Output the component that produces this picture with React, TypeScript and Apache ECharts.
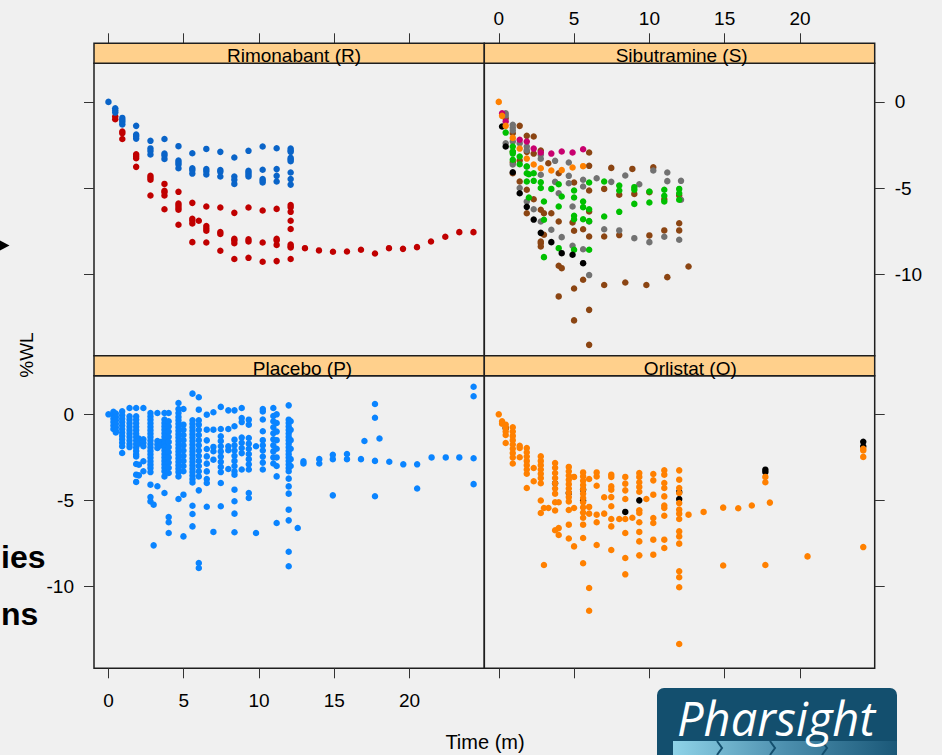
import React, { useEffect, useRef } from "react";
import * as echarts from "echarts";

const panelTitles = ["Rimonabant (R)", "Sibutramine (S)", "Placebo (P)", "Orlistat (O)"];
const xTicks = [0, 5, 10, 15, 20];
const yTicks = [0, -5, -10];
const xTitle = "Time (m)";
const yTitle = "%WL";
const sideTexts = ["ies", "ns"];
const logoText = "Pharsight";

type Col = [number, number[]];

// Rimonabant (R)
const rimBlueCols: Col[] = [
  [0, [0]],
  [0.45, [-0.37, -0.5, -0.62]],
  [0.92, [-0.93, -1.05, -1.16, -1.31]],
  [1.84, [-1.39, -1.9, -2.0, -2.13]],
  [2.79, [-2.26, -2.7, -2.85, -3.05]],
  [3.72, [-2.15, -3.0, -3.11, -3.31]],
  [4.65, [-2.57, -3.4, -3.52, -3.64, -3.85]],
  [5.57, [-2.98, -3.85, -3.96, -4.16]],
  [6.5, [-2.73, -3.9, -4.02, -4.21]],
  [7.43, [-2.9, -3.95, -4.06, -4.33]],
  [8.36, [-3.23, -4.33, -4.52, -4.76]],
  [9.3, [-2.84, -4.0, -4.1, -4.22, -4.33]],
  [10.24, [-2.59, -3.94, -4.48, -4.58, -4.68]],
  [11.17, [-2.69, -3.9, -4.29, -4.62]],
  [12.1, [-2.71, -2.82, -2.9, -3.25, -3.35, -3.44, -4.1, -4.48, -4.8]],
];
const rimRedCols: Col[] = [
  [0.45, [-0.85, -1.0]],
  [0.92, [-1.72, -1.82, -2.15]],
  [1.84, [-3.04, -3.15, -3.27, -3.77]],
  [2.79, [-4.29, -4.4, -4.52, -5.43]],
  [3.72, [-4.76, -5.16, -5.25, -5.43, -6.23]],
  [4.65, [-5.22, -5.9, -6.01, -6.15, -6.26, -7.13]],
  [5.57, [-5.86, -6.78, -6.9, -7.06, -8.14]],
  [6.0, [-6.9]],
  [6.5, [-6.07, -7.2, -7.35, -7.48, -8.16]],
  [7.43, [-6.13, -7.55, -7.66, -8.64]],
  [8.36, [-6.44, -7.95, -8.04, -8.2, -9.12]],
  [9.3, [-6.13, -7.98, -8.1, -9.05]],
  [10.24, [-6.3, -8.16, -9.28]],
  [11.17, [-6.21, -7.95, -8.04, -8.3, -9.24]],
  [12.1, [-5.99, -6.12, -6.38, -6.9, -7.38, -8.28, -8.38, -8.45, -9.12]],
  [13.05, [-8.49]],
  [13.98, [-8.62]],
  [14.91, [-8.7]],
  [15.84, [-8.68]],
  [16.77, [-8.58]],
  [17.7, [-8.8]],
  [18.63, [-8.49]],
  [19.56, [-8.53]],
  [20.49, [-8.43]],
  [21.42, [-8.1]],
  [22.37, [-7.83]],
  [23.3, [-7.56]],
  [24.24, [-7.56]],
];

// Sibutramine (S)
const sibBrown: number[][] = [
  [0.46, -0.95], [0.93, -1.82], [0.93, -2.9], [0.93, -3.5], [0.93, -4.14], [1.39, -1.39], [1.39, -3.4], [1.39, -4.62],
  [1.86, -1.97], [1.86, -2.9], [1.86, -5.1], [1.86, -6.46], [2.32, -2.01], [2.32, -3.0], [2.32, -5.65], [2.79, -2.82],
  [2.79, -6.26], [2.79, -8.1], [2.79, -8.2], [2.79, -8.39], [3.0, -6.46], [3.0, -7.71], [3.29, -3.56], [3.49, -6.46],
  [3.98, -4.14], [3.98, -6.94], [3.98, -9.51], [4.18, -9.65], [3.98, -11.29], [4.9, -7.0], [5.0, -4.68], [5.0, -7.48],
  [5.0, -10.83], [5.0, -12.68], [5.6, -7.39], [5.6, -10.32], [6.0, -2.94], [6.0, -3.71], [6.0, -5.14], [6.0, -6.36],
  [6.0, -7.81], [6.0, -12.07], [6.0, -14.1], [7.0, -5.05], [7.0, -7.81], [7.0, -10.63], [7.47, -3.83], [8.0, -5.39],
  [8.0, -7.73], [8.4, -10.48], [8.87, -3.89], [9.0, -5.34], [9.8, -10.63], [10.0, -5.24], [10.0, -7.75], [10.26, -3.79],
  [10.99, -5.65], [10.99, -7.46], [11.19, -10.17], [11.98, -5.43], [11.98, -7.04], [11.98, -7.46], [12.6, -9.55],
];
const sibGrey: number[][] = [
  [0.46, -0.66], [0.46, -0.8], [0.93, -1.33], [0.93, -1.5], [0.93, -1.66], [0.46, -2.4], [0.93, -2.3], [0.93, -3.63],
  [1.39, -2.4], [1.39, -5.0], [1.86, -2.59], [1.86, -2.8], [1.86, -3.75], [1.86, -5.78], [2.32, -6.23], [2.79, -3.07],
  [2.79, -3.3], [2.79, -4.23], [2.79, -6.94], [3.49, -7.42], [3.74, -3.42], [3.74, -4.64], [3.98, -5.3], [4.18, -7.85],
  [4.65, -3.52], [4.65, -4.29], [4.65, -4.72], [4.9, -6.07], [4.9, -8.35], [5.6, -4.52], [5.6, -4.91], [5.6, -8.55],
  [6.0, -6.94], [6.0, -10.05], [6.5, -4.43], [7.47, -4.64], [7.0, -7.39], [8.0, -7.46], [8.4, -4.27], [9.0, -7.91],
  [9.33, -4.78], [10.0, -8.14], [10.26, -3.98], [11.19, -4.1], [11.19, -4.6], [10.99, -7.83], [12.1, -4.58],
  [12.1, -5.68], [11.98, -8.0],
];
const sibGreen: number[][] = [
  [0.46, -1.78], [0.93, -2.59], [0.93, -2.88], [0.93, -3.0], [0.93, -3.36], [1.39, -3.17], [1.39, -3.62], [1.86, -3.75],
  [1.86, -4.14], [1.86, -4.62], [2.0, -4.2], [2.0, -5.55], [2.32, -4.14], [2.32, -4.58], [2.79, -4.66], [2.79, -5.0],
  [3.0, -5.78], [3.0, -6.84], [3.0, -9.01], [3.49, -5.05], [3.98, -4.78], [3.98, -6.07], [3.98, -8.49], [4.18, -5.49],
  [5.0, -5.14], [5.0, -5.55], [5.0, -6.61], [5.0, -6.81], [5.0, -8.58], [5.6, -5.78], [5.6, -6.11], [5.6, -6.81],
  [6.0, -4.68], [6.0, -6.23], [6.0, -6.92], [6.0, -8.58], [7.0, -4.62], [7.0, -6.65], [8.0, -4.85], [8.0, -5.14],
  [8.0, -6.38], [9.0, -4.95], [9.0, -5.1], [9.0, -5.92], [10.0, -5.2], [10.0, -5.84], [10.99, -5.1], [10.99, -5.45],
  [10.99, -5.78], [11.98, -5.05], [11.98, -5.3], [11.98, -5.68],
];
const sibBlack: number[][] = [
  [0.22, -1.43], [0.46, -2.59], [0.93, -4.08], [1.39, -5.3], [1.86, -6.09], [2.32, -6.83], [2.79, -7.6],
  [3.49, -8.14], [4.18, -8.78], [4.9, -8.87], [5.6, -9.36],
];
const sibMagenta: number[][] = [
  [0.22, -0.66], [0.46, -1.14], [1.39, -2.2], [1.86, -2.3], [2.32, -2.71], [2.79, -2.94], [3.49, -3.0],
  [4.18, -2.88], [4.9, -2.94], [5.6, -2.75],
];
const sibOrange: number[][] = [
  [0, 0], [0.22, -0.81], [0.46, -1.39], [0.93, -2.09], [1.39, -2.71], [1.86, -3.29], [2.32, -3.63], [2.79, -3.85],
  [3.49, -3.98], [4.18, -3.96], [4.9, -3.81], [5.6, -3.73],
];

// Placebo (P)
const placeboCols: Col[] = [
  [0, [0]],
  [0.33, [0.15, -0.05, -0.25, -0.45, -0.65, -0.85]],
  [0.49, [0.05, -0.15, -0.35, -0.55, -0.75, -0.95, -1.05]],
  [0.91, [0.17, -0.05, -0.25, -0.45, -0.65, -0.85, -1.05, -1.25, -1.45, -1.65, -1.85, -2.24]],
  [1.4, [0.37, -0.12, -0.32, -0.52, -0.72, -0.92, -1.12, -1.32, -1.52, -1.72, -1.9]],
  [1.84, [0.37, -0.12, -0.32, -0.52, -0.72, -0.92, -1.12, -1.32, -1.52, -1.72, -1.92, -2.12, -2.32, -2.44, -2.88, -3.5, -3.92]],
  [2.02, [-1.4, -1.7, -2.92, -3.54]],
  [2.32, [0.37, -1.45, -1.65, -1.85, -2.72, -3.3]],
  [2.79, [0.08, -0.12, -0.32, -0.52, -0.72, -0.92, -1.12, -1.32, -1.52, -1.72, -1.92, -2.12, -2.32, -2.52, -2.72, -2.92, -3.12, -3.35, -4.08, -4.8, -5.05]],
  [3.0, [-5.24, -7.6]],
  [3.25, [0.08, -1.55, -1.75, -1.95, -4.17]],
  [3.45, [-1.6, -1.8]],
  [3.72, [0.08, -0.3, -0.5, -0.7, -0.9, -1.1, -1.3, -1.5, -1.7, -1.9, -2.1, -2.3, -2.5, -2.7, -2.9, -3.1, -3.3, -3.6, -4.56]],
  [4.0, [0.08, -0.4, -0.7, -1.0, -1.3, -1.6, -1.9, -2.2, -2.5, -2.8, -3.1, -3.4, -5.96, -6.26, -6.88]],
  [4.65, [0.66, 0.31, 0.08, -0.15, -0.35, -0.55, -0.75, -0.95, -1.15, -1.35, -1.55, -1.75, -1.95, -2.15, -2.35, -2.55, -2.75, -2.95, -3.15, -3.35, -3.6, -4.91]],
  [4.98, [0.31, -0.6, -0.9, -1.2, -1.5, -1.8, -2.1, -2.4, -2.7, -3.0, -3.3, -4.66, -7.08]],
  [5.58, [1.2, -0.35, -0.55, -0.75, -0.95, -1.15, -1.35, -1.55, -1.75, -1.95, -2.15, -2.35, -2.55, -2.75, -2.95, -3.15, -3.35, -3.55, -3.75, -3.95, -5.3, -5.78, -6.5]],
  [6.0, [0.99, 0.27, -0.35, -0.6, -0.9, -1.2, -1.5, -1.8, -2.1, -2.4, -2.7, -3.0, -3.3, -3.6, -4.41, -8.62, -8.91]],
  [6.53, [-0.02, -0.89, -1.51, -2.01, -2.44, -2.86, -3.31, -3.75, -3.98, -5.36]],
  [6.97, [0.12, -0.89, -1.89, -2.14, -2.63, -6.82]],
  [7.46, [0.43, -0.85, -1.27, -1.55, -1.85, -2.15, -2.45, -2.75, -3.05, -3.35, -3.98, -5.33]],
  [7.96, [0.23, -0.85, -1.85, -2.08, -3.17]],
  [8.37, [0.23, -0.69, -1.47, -1.8, -2.1, -2.4, -2.7, -3.0, -3.3, -3.5, -4.37, -5.04, -5.76, -6.84]],
  [8.85, [0.37, -0.21, -0.45, -1.35, -1.65, -1.95, -2.25, -3.2]],
  [9.32, [-0.31, -0.6, -1.37, -1.7, -2.0, -2.3, -2.6, -2.9, -3.2, -4.56, -4.85]],
  [9.8, [-1.85, -6.88]],
  [10.25, [0.31, 0.17, -0.3, -0.98, -1.5, -1.8, -2.1, -2.45, -2.8, -3.2]],
  [10.95, [0.37, -0.1, -0.4, -0.75, -1.1, -1.45, -1.8, -2.15, -2.5, -2.85]],
  [11.17, [0.0, -0.5, -1.0, -1.5, -2.0, -2.5, -3.0, -3.6, -6.3]],
  [11.97, [0.52, -0.31, -0.51, -0.71, -0.91, -1.11, -1.31, -1.51, -1.71, -1.91, -2.11, -2.31, -2.51, -2.71, -2.91, -3.11, -3.3, -3.73, -4.18, -4.6, -5.53, -6.15, -7.97, -8.81]],
  [12.1, [-0.4, -0.9, -1.5, -2.0, -2.6, -3.0]],
  [12.57, [-6.59]],
  [12.95, [-2.73, -2.85]],
  [14.0, [-2.6, -2.85]],
  [14.9, [-2.35, -2.6, -4.7]],
  [15.84, [-2.3, -2.6]],
  [16.77, [-2.6]],
  [17.0, [-1.55]],
  [17.7, [0.6, -0.2, -2.7, -4.75]],
  [18.0, [-1.4]],
  [18.65, [-2.75]],
  [19.58, [-2.9]],
  [20.5, [-2.9, -4.3]],
  [21.46, [-2.5]],
  [22.4, [-2.5]],
  [23.3, [-2.5]],
  [24.25, [1.6, 1.05, -2.55, -4.05]],
];

// Orlistat (O)
const orlOrangeCols: Col[] = [
  [0, [0]],
  [0.22, [-0.4, -0.55]],
  [0.46, [-0.6, -0.8, -1.0, -1.2, -1.66]],
  [0.93, [-0.75, -1.0, -1.25, -1.5, -1.75, -2.0, -2.25, -2.5, -2.85]],
  [1.39, [-1.82, -1.95, -2.49]],
  [1.86, [-1.95, -2.2, -2.45, -2.7, -2.95, -3.2, -3.45, -4.27]],
  [2.32, [-3.11, -3.88]],
  [2.79, [-2.44, -2.7, -2.95, -3.2, -3.45, -3.7, -4.0, -5.0, -5.72]],
  [3.0, [-5.43, -8.74]],
  [3.3, [-5.43]],
  [3.74, [-2.83, -3.1, -3.4, -3.7, -4.0, -4.3, -4.6, -5.1, -5.58, -6.72]],
  [3.98, [-5.1, -6.6, -7.0]],
  [4.65, [-3.05, -3.3, -3.55, -3.8, -4.05, -4.3, -4.55, -4.8, -5.05, -5.55, -6.4, -7.2]],
  [5.0, [-3.63, -5.43, -7.66]],
  [5.6, [-3.37, -3.6, -3.85, -4.1, -4.35, -4.6, -4.85, -5.1, -5.4, -5.7, -6.0, -6.4, -7.17, -8.64]],
  [6.0, [-3.75, -5.37, -5.76, -10.07, -11.39]],
  [6.5, [-3.37, -3.6, -4.14, -5.82, -6.26, -7.58]],
  [7.0, [-4.81, -5.76]],
  [7.47, [-3.5, -3.63, -4.18, -4.37, -4.8, -5.33, -6.07, -6.5, -7.87]],
  [8.0, [-6.07]],
  [8.4, [-3.63, -4.02, -4.41, -4.91, -6.07, -6.88, -8.33, -9.28]],
  [8.87, [-6.0]],
  [9.33, [-3.4, -3.63, -3.94, -4.21, -4.49, -5.57, -5.72, -6.26, -6.82, -7.37, -8.18]],
  [9.8, [-4.91]],
  [10.26, [-3.46, -3.83, -4.66, -6.01, -6.3, -7.27, -8.14]],
  [10.99, [-3.25, -3.5, -3.98, -4.27, -4.76, -5.29, -5.43, -5.88, -7.27, -7.75]],
  [11.98, [-3.25, -3.79, -4.27, -4.56, -5.15, -5.53, -5.76, -6.07, -6.79, -7.08, -7.5, -9.1, -9.45, -10.03, -13.32]],
  [12.6, [-5.82]],
  [13.6, [-5.66]],
  [14.9, [-5.41, -8.77]],
  [15.9, [-5.45]],
  [16.8, [-5.29]],
  [17.7, [-3.63, -3.94, -8.74]],
  [18.0, [-5.12]],
  [20.5, [-8.24]],
  [24.2, [-2.0, -2.1, -2.47, -7.7]],
];
const orlBlack: number[][] = [
  [0.46, -0.8], [3.74, -4.0], [4.65, -4.56], [5.6, -4.37], [5.6, -5.0], [8.4, -5.66], [9.33, -4.99],
  [11.98, -4.91], [11.98, -4.5], [17.7, -3.21], [17.7, -3.35], [24.2, -1.59], [24.2, -1.85],
];

const X_MIN = -0.96;
const X_MAX = 24.96;
const Y_MIN = -14.73;
const Y_MAX = 2.24;

function expand(cols: Col[]): number[][] {
  const out: number[][] = [];
  cols.forEach(([t, ys]) => ys.forEach((y) => out.push([t, y])));
  return out;
}

export default function App() {
  const ref = useRef<HTMLDivElement>(null);
  useEffect(() => {
    document.body.style.margin = "0";
    document.body.style.background = "#f0f0f0";
    const chart = echarts.init(ref.current!, null, { renderer: "svg" });
    const FONT = "'Liberation Sans', Arial, Helvetica, sans-serif";
    const BORDER = "#1e1e1e";
    const grids = [
      { left: 94, top: 63.3, width: 390.3, height: 292.4 },
      { left: 484.3, top: 63.3, width: 390.4, height: 292.4 },
      { left: 94, top: 375.7, width: 390.3, height: 292.6 },
      { left: 484.3, top: 375.7, width: 390.4, height: 292.6 },
    ];
    const titleCenters = [294, 681.7, 302.5, 690.3];

    const xAxis = grids.map((_, i) => ({
      gridIndex: i,
      type: "value",
      min: X_MIN,
      max: X_MAX,
      position: i < 2 ? "top" : "bottom",
      offset: i < 2 ? 20 : 0,
      axisLine: { show: false, onZero: false },
      axisTick: { show: true, inside: false, length: 10, customValues: xTicks, lineStyle: { color: "#333", width: 1 } },
      axisLabel: {
        show: i === 1 || i === 2,
        customValues: xTicks,
        margin: i === 1 ? 15 : 23,
        fontSize: 19,
        color: "#000",
        fontFamily: FONT,
      },
      splitLine: { show: false },
    }));
    const yAxis = grids.map((_, i) => ({
      gridIndex: i,
      type: "value",
      min: Y_MIN,
      max: Y_MAX,
      position: i % 2 === 0 ? "left" : "right",
      axisLine: { show: false, onZero: false },
      axisTick: { show: true, inside: false, length: 10, customValues: yTicks, lineStyle: { color: "#333", width: 1 } },
      axisLabel: {
        show: i === 1 || i === 2,
        customValues: yTicks,
        margin: 20,
        fontSize: 19,
        color: "#000",
        fontFamily: FONT,
      },
      splitLine: { show: false },
    }));

    const mk = (name: string, data: number[][], g: number, color: string) => ({
      type: "scatter",
      name,
      xAxisIndex: g,
      yAxisIndex: g,
      data,
      symbol: "circle",
      symbolSize: 6.5,
      itemStyle: { color, opacity: 1 },
      silent: true,
      emphasis: { disabled: true },
    });

    const series = [
      mk("R red", expand(rimRedCols), 0, "#c00000"),
      mk("R blue", expand(rimBlueCols), 0, "#0a64c8"),
      mk("S brown", sibBrown, 1, "#8b4513"),
      mk("S grey", sibGrey, 1, "#727272"),
      mk("S green", sibGreen, 1, "#00c000"),
      mk("S black", sibBlack, 1, "#000000"),
      mk("S magenta", sibMagenta, 1, "#c8006e"),
      mk("S orange", sibOrange, 1, "#ff8000"),
      mk("P", expand(placeboCols), 2, "#0a84ff"),
      mk("O black", orlBlack, 3, "#000000"),
      mk("O orange", expand(orlOrangeCols), 3, "#ff8000"),
    ];

    const graphic: any[] = [];
    grids.forEach((g, i) => {
      graphic.push({
        type: "rect",
        shape: { x: g.left, y: g.top - 20, width: g.width, height: 20 },
        style: { fill: "#ffd08c", stroke: BORDER, lineWidth: 1.5 },
        z: 10,
      });
      graphic.push({
        type: "text",
        x: titleCenters[i],
        y: g.top - 7.6,
        style: {
          text: panelTitles[i],
          fontSize: 19,
          fontFamily: FONT,
          fill: "#000",
          align: "center",
          verticalAlign: "middle",
        },
        z: 11,
      });
    });
    graphic.push({
      type: "text",
      x: 26,
      y: 355,
      rotation: Math.PI / 2,
      style: { text: yTitle, fontSize: 19, fontFamily: FONT, fill: "#000", align: "center", verticalAlign: "middle" },
    });
    graphic.push({
      type: "text",
      x: 485,
      y: 742,
      style: { text: xTitle, fontSize: 20, fontFamily: FONT, fill: "#000", align: "center", verticalAlign: "middle" },
    });
    graphic.push({
      type: "polygon",
      shape: { points: [[0, 240.5], [9.5, 245.5], [0, 250.5]] },
      style: { fill: "#000" },
    });
    graphic.push({
      type: "text",
      x: 1,
      y: 557,
      style: { text: sideTexts[0], fontSize: 32, fontWeight: "bold", fontFamily: FONT, fill: "#000", align: "left", verticalAlign: "middle" },
    });
    graphic.push({
      type: "text",
      x: 1,
      y: 614,
      style: { text: sideTexts[1], fontSize: 32, fontWeight: "bold", fontFamily: FONT, fill: "#000", align: "left", verticalAlign: "middle" },
    });
    // logo
    graphic.push({
      type: "rect",
      shape: { x: 657, y: 688, width: 240, height: 80, r: [7, 7, 0, 0] },
      style: { fill: "#134f6e" },
    });
    graphic.push({
      type: "rect",
      shape: { x: 673, y: 741, width: 224, height: 16 },
      style: {
        fill: new echarts.graphic.LinearGradient(0, 0, 1, 0, [
          { offset: 0, color: "#8fd3e8" },
          { offset: 0.5, color: "#4c8fae" },
          { offset: 1, color: "#1a5878" },
        ]),
      },
    });
    [722, 775, 827].forEach((cx) => {
      graphic.push({
        type: "polyline",
        shape: { points: [[cx - 5, 741], [cx, 748], [cx - 5, 755]] },
        style: { stroke: "#134f6e", lineWidth: 2, fill: "none" },
      });
    });
    graphic.push({
      type: "text",
      x: 677,
      y: 718,
      style: {
        text: logoText,
        fontSize: 47,
        fontStyle: "italic",
        fontFamily: "'Open Sans', 'Noto Sans', sans-serif",
        fill: "#ffffff",
        align: "left",
        verticalAlign: "middle",
      },
      z: 5,
    });

    chart.setOption({
      animation: false,
      backgroundColor: "#f0f0f0",
      grid: grids.map((g) => ({ ...g, show: true, borderColor: BORDER, borderWidth: 1.5, backgroundColor: "transparent", containLabel: false })),
      xAxis,
      yAxis,
      series,
      graphic,
    } as any);
    return () => chart.dispose();
  }, []);
  return (
    <div
      ref={ref}
      style={{ position: "absolute", left: 0, top: 0, width: 942, height: 755, background: "#f0f0f0" }}
    />
  );
}
